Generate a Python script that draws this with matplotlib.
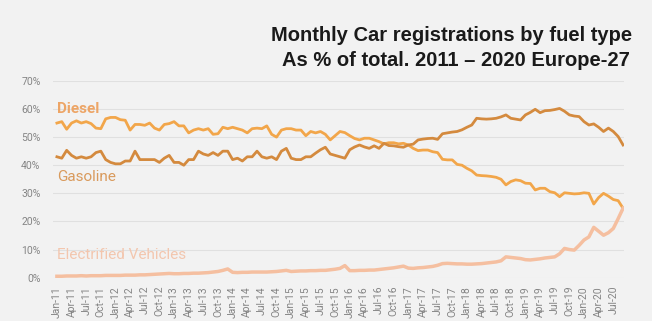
"""Monthly car registrations by fuel type, Europe-27, 2011-2020"""

import matplotlib
matplotlib.use("Agg")
import matplotlib.pyplot as plt
import pandas as pd

# monthly share of total registrations (%), Jan 2011 - Sep 2020
diesel = [
    55, 55.5, 52.8, 55, 55.8, 55, 55.5, 54.8, 53.2, 53, 56.5, 57,
    57, 56.2, 56, 52.5, 54.5, 54.5, 54.2, 55, 53.2, 52.5, 54.5, 54.8,
    55.5, 54, 54, 51.5, 52.5, 53, 52.5, 53, 51, 51.2, 53.5, 53,
    53.5, 53, 52.5, 51.5, 53, 53.2, 53, 54, 51, 50, 52.5, 53,
    53, 52.5, 52.5, 50.5, 52, 51.5, 52, 51, 49, 50.5, 52, 51.6,
    50.5, 49.5, 49, 49.6, 49.6, 49, 48.4, 47.6, 48, 48, 47.6, 47.8,
    47.2, 46, 45.2, 45.4, 45.4, 44.8, 44.5, 42.1, 41.9, 41.9, 40.3, 40,
    38.9, 38, 36.5, 36.3, 36.2, 36, 35.7, 35, 33, 34.2, 34.8, 34.5,
    33.6, 33.5, 31.2, 31.8, 31.8, 30.6, 30.2, 28.8, 30.2, 30, 29.8, 29.9,
    30.2, 30, 26.2, 28.5, 30, 29, 27.8, 27.4, 24.7,
]
gasoline = [
    43, 42.5, 45.3, 43.5, 42.5, 43, 42.5, 43, 44.5, 45, 42, 41,
    40.5, 40.5, 41.5, 41.5, 45, 42, 42, 42, 42, 41, 42.5, 43.5,
    41, 41, 40, 42, 42, 45, 44, 43.5, 44.5, 43.5, 45, 45,
    42, 42.5, 41.5, 43, 43, 45, 43, 42.5, 43, 42, 45, 46,
    42.5, 42, 42, 43, 43, 44.3, 45.5, 46.4, 44, 43.5, 43, 42.5,
    45.5, 46.5, 47.2, 46.5, 46, 46.9, 46, 47.8, 47, 46.9, 46.6, 46.4,
    47.2, 47.5, 49, 49.3, 49.5, 49.6, 49.2, 51.2, 51.5, 51.8, 52, 52.6,
    53.5, 54.3, 56.7, 56.5, 56.4, 56.5, 56.7, 57.2, 57.9, 56.7, 56.4, 56.1,
    57.9, 58.8, 59.9, 58.7, 59.4, 59.5, 59.8, 60.2, 59.2, 57.9, 57.5, 57.3,
    55.5, 54.3, 54.7, 53.5, 52, 53.2, 52, 50.2, 47.2,
]
electrified = [
    0.5, 0.5, 0.6, 0.6, 0.6, 0.7, 0.6, 0.7, 0.7, 0.7, 0.8, 0.8,
    0.8, 0.8, 0.9, 0.9, 0.9, 1.0, 1.0, 1.1, 1.2, 1.3, 1.4, 1.5,
    1.4, 1.4, 1.5, 1.5, 1.6, 1.6, 1.7, 1.8, 2.0, 2.2, 2.6, 3.1,
    1.9, 1.8, 1.9, 1.9, 2.0, 2.0, 2.0, 2.0, 2.1, 2.2, 2.4, 2.6,
    2.2, 2.3, 2.4, 2.4, 2.5, 2.5, 2.6, 2.6, 2.8, 3.0, 3.3, 4.3,
    2.5, 2.5, 2.6, 2.6, 2.7, 2.7, 2.9, 3.1, 3.3, 3.5, 3.8, 4.1,
    3.4, 3.3, 3.5, 3.6, 3.8, 4.0, 4.4, 5.0, 5.1, 5.0, 4.9, 4.9,
    4.8, 4.8, 4.9, 5.0, 5.2, 5.4, 5.6, 6.0, 7.4, 7.2, 7.0, 6.8,
    6.4, 6.3, 6.5, 6.7, 7.0, 7.2, 7.4, 8.5, 10.4, 10.0, 9.8, 11.5,
    13.4, 14.5, 17.9, 16.5, 15.1, 16.0, 17.5, 21.0, 24.7,
]

months = pd.date_range("2011-01-01", periods=len(diesel), freq="MS")
month_labels = [d.strftime("%b-%y") for d in months]

plt.rcParams["font.family"] = ["Roboto", "DejaVu Sans"]

bg = "#f2f2f2"
fig = plt.figure(figsize=(6.52, 3.21), dpi=100, facecolor=bg)
ax = fig.add_axes([0.0813, 0.135, 0.8758, 0.613], facecolor=bg)

x = list(range(len(months)))
ax.plot(x, diesel, color="#f2a64a", lw=2.0, solid_joinstyle="round")
ax.plot(x, gasoline, color="#d48a3e", lw=2.0, solid_joinstyle="round")
ax.plot(x, electrified, color="#f5bfa0", lw=2.5, solid_joinstyle="round")

# inline series labels
ax.text(0, 60, "Diesel", color="#eda566", fontsize=11, fontweight="bold",
        va="center", ha="left")
ax.text(0, 35.8, "Gasoline", color="#d99a5c", fontsize=11,
        va="center", ha="left")
ax.text(0, 8.1, "Electrified Vehicles", color="#f3c6ae", fontsize=11,
        va="center", ha="left")

ax.set_xlim(-0.8, 116.2)
ax.set_ylim(0, 70)
ax.set_yticks(range(0, 71, 10))
ax.set_yticklabels([f"{v}%" for v in range(0, 71, 10)])
ax.set_xticks(x[::3])
ax.set_xticklabels(month_labels[::3], rotation=90)
ax.tick_params(axis="both", length=0, colors="#858585", labelsize=7.5)
ax.tick_params(axis="y", pad=9)
ax.tick_params(axis="x", pad=6)
ax.grid(axis="y", color="#e0e0e0", lw=0.8)
ax.set_axisbelow(True)
for s in ax.spines.values():
    s.set_visible(False)

fig.text(0.969, 0.89, "Monthly Car registrations by fuel type", ha="right",
         va="center", fontsize=14.5, fontweight="bold", color="#1a1a1a",
         family="Liberation Sans")
fig.text(0.966, 0.812, "As % of total. 2011 \u2013 2020 Europe-27", ha="right",
         va="center", fontsize=14.5, fontweight="bold", color="#1a1a1a",
         family="Liberation Sans")

fig.savefig("out.png", dpi=100, facecolor=bg)
